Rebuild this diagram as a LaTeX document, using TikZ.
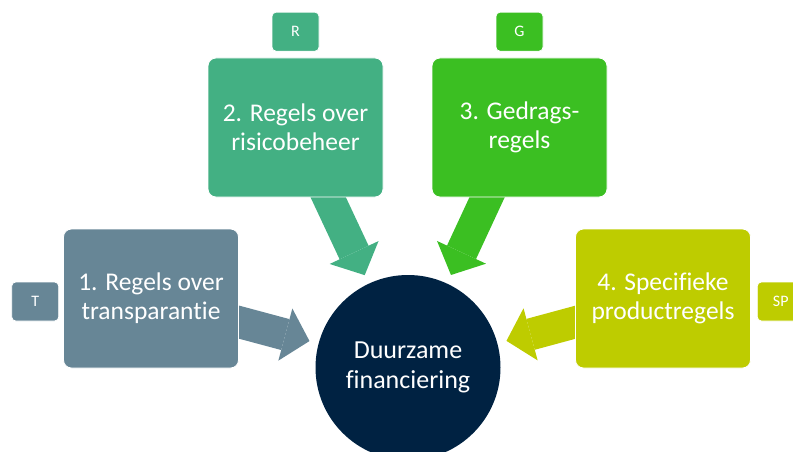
\documentclass[tikz,border=0pt]{standalone}
\usepackage{fontspec}
\setmainfont{Carlito}[Ligatures=NoCommon]
\usetikzlibrary{arrows.meta,positioning,backgrounds}
\definecolor{transp}{RGB}{103,134,150}
\definecolor{risico}{RGB}{67,176,131}
\definecolor{gedrag}{RGB}{59,191,34}
\definecolor{product}{RGB}{190,204,0}
\definecolor{navy}{RGB}{0,34,66}

\begin{document}
\begin{tikzpicture}[x=1pt,y=-1pt,
  block/.style={rounded corners=8pt,draw=white,line width=0.8pt,minimum width=175pt,minimum height=139pt,align=center,text=white,font=\fontsize{25.5}{29}\selectfont},
  tag/.style={rounded corners=4pt,draw=white,line width=0.8pt,minimum width=47pt,minimum height=39pt,inner sep=0pt,text=white,font=\fontsize{16}{19}\selectfont},
  hub/.style={circle,fill=navy,minimum size=185pt,inner sep=0pt,align=center,text=white,font=\fontsize{26}{30.5}\selectfont},
  flow/.style={line width=32pt,-{Triangle[length=25pt,width=54pt,line width=0pt]},shorten >=102pt}]

  \useasboundingbox (0,0) rectangle (793,452);

  \node[hub] (hub) at (408,367.5) {Duurzame\\financiering};

  \node[block,fill=transp]  (b1) at (151,298.5)   {1. Regels over\\transparantie};
  \node[block,fill=risico]  (b2) at (295.5,127.5) {2. Regels over\\risicobeheer};
  \node[block,fill=gedrag]  (b3) at (519.5,127.5) {3. Gedrags-\\regels};
  \node[block,fill=product] (b4) at (663,298.5)   {4. Specifieke\\productregels};

  \node[tag,fill=transp]  (t)  [left=4pt of b1,yshift=-3pt]  {T};
  \node[tag,fill=risico]  (r)  [above=6pt of b2]             {R};
  \node[tag,fill=gedrag]  (g)  [above=6pt of b3]             {G};
  \node[tag,fill=product] (sp) [right=6pt of b4,yshift=-3pt] {SP};

  \begin{pgfonlayer}{background}
    \path[flow] (b1.center) edge[transp]  (hub.center)
                (b2.center) edge[risico]  (hub.center)
                (b3.center) edge[gedrag]  (hub.center)
                (b4.center) edge[product] (hub.center);
  \end{pgfonlayer}

\end{tikzpicture}
\end{document}
